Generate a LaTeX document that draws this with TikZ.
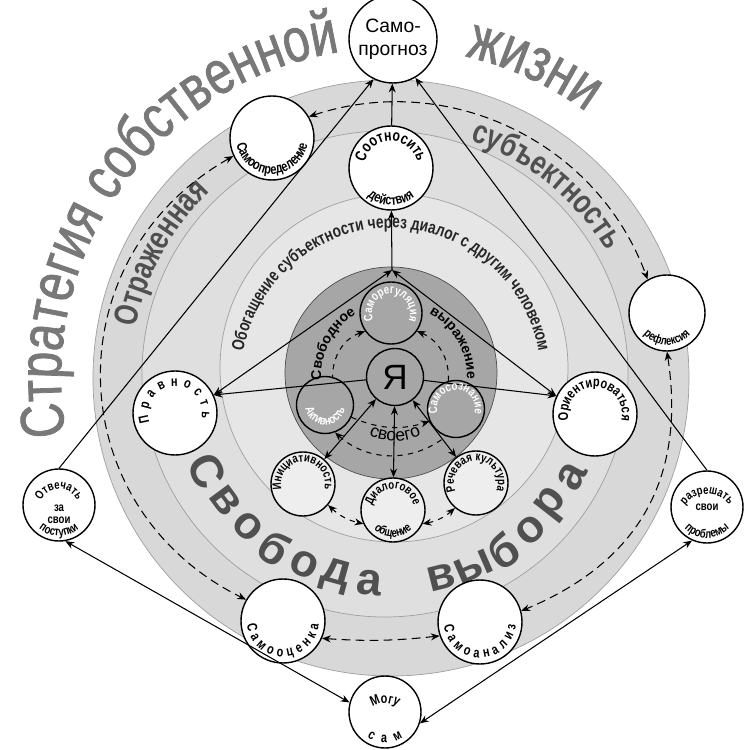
\documentclass[tikz,border=0pt]{standalone}
\usepackage{fontspec}
\setmainfont{Liberation Sans}
\newfontfamily\narrowfont[FakeStretch=0.78]{Liberation Sans}
\newfontfamily\heavyfont[FakeStretch=0.78,FakeBold=1.2]{Liberation Sans}
\usetikzlibrary{arrows.meta,decorations.text}
\definecolor{bandout}{HTML}{D8D8D8}
\definecolor{bandmid}{HTML}{DFDFDF}
\definecolor{bandin}{HTML}{E6E6E6}
\definecolor{coredark}{HTML}{A6A6A6}
\definecolor{lowfill}{HTML}{EEEEEE}
\definecolor{bigtext}{HTML}{787878}
\definecolor{darktext}{HTML}{505050}

\newcommand{\fbig}{\heavyfont\fontsize{35}{35}\selectfont}
\newcommand{\fband}{\narrowfont\bfseries\fontsize{19}{19}\selectfont}
\newcommand{\fring}{\narrowfont\bfseries\fontsize{10}{10}\selectfont}
\newcommand{\fmd}{\narrowfont\bfseries\fontsize{9}{9}\selectfont}
\newcommand{\fsm}{\narrowfont\bfseries\fontsize{8}{8}\selectfont}
\newcommand{\fxs}{\narrowfont\bfseries\fontsize{7}{7}\selectfont}
\newcommand{\fcore}{\bfseries\fontsize{8}{8}\selectfont}
\newcommand{\fhollow}{\color{white}\narrowfont\bfseries\fontsize{7}{7}\selectfont}

% text along an arc round a named point (optional shift of the centre)
\newcommand{\arctext}[6][0,0]{%
  \path[decorate,decoration={text along path,text align=center,text={#6}}]
    (#2) ++(#1) ++(#4:#3) arc[start angle=#4,end angle=#5,radius=#3];}
\newcommand{\arcfit}[6][0,0]{%
  \path[decorate,decoration={text along path,text align=fit to path,text={#6}}]
    (#2) ++(#1) ++(#4:#3) arc[start angle=#4,end angle=#5,radius=#3];}

\begin{document}
\begin{tikzpicture}[
    x=0.02cm, y=0.02cm,
    ringline/.style={draw=gray!75, line width=0.4pt},
    bigc/.style={circle, draw, thick, fill=white, minimum size=1.68cm,
                 inner sep=0pt, align=center},
    smallc/.style={bigc, minimum size=1.44cm},
    corec/.style={circle, draw, thick, minimum size=1.14cm, inner sep=0pt},
    lowc/.style={circle, draw, thick, fill=lowfill, minimum size=1.28cm,
                 inner sep=0pt},
    midtext/.style={font=\fxs, align=center, inner sep=0pt},
    bigletter/.style={font=\bfseries\fontsize{26}{26}\selectfont,
                      text=darktext, inner sep=0pt},
    arr/.style={-{Stealth[length=5pt,width=4pt]}, semithick},
    rarr/.style={{Stealth[length=5pt,width=4pt]}-, semithick},
    biarr/.style={{Stealth[length=5pt,width=4pt]}-{Stealth[length=5pt,width=4pt]},
                  semithick},
    dsh/.style={thick, dash pattern=on 5pt off 3pt},
    dshs/.style={thick, dash pattern=on 3pt off 3pt},
]
\useasboundingbox (-391,-372) rectangle (359,378);
\fill[white] (-391,-372) rectangle (359,378);
\coordinate (o) at (0,0);

% rings
\filldraw[fill=bandout, ringline] (o) circle[radius=298];
\filldraw[fill=bandmid, ringline] (-6,4) circle[radius=243];
\filldraw[fill=bandin, ringline] (3,10) circle[radius=174];
\filldraw[fill=coredark, draw=gray!60!black, line width=0.4pt] (0,5) circle[radius=106];

% texts on the rings
\path[decorate,decoration={text along path,
      text={|\fbig\color{bigtext}|Стратегия собственной}}]
    (o) ++(190:330) arc[start angle=190,end angle=92,radius=330];
\path[decorate,decoration={text along path,text={|\fbig\color{bigtext}|жизни}}]
    (o) ++(77:330) arc[start angle=77,end angle=40,radius=330];
\arctext{o}{260}{177}{126}{|\fband\color{darktext}|Отраженная}
\arctext{o}{250}{77}{25}{|\fband\color{darktext}|субъектность}
\arctext{o}{150}{179}{1}{|\fring\color{black!85}|Обогащение субъектности через диалог с другим человеком}
\foreach \ch/\ang [count=\i] in {С/207,в/216.5,о/226,б/235.5,о/245,д/254.5,а/264,
                                 в/284,ы/293.5,б/303,о/312.5,р/322,а/331.5}
  \node[bigletter, rotate=\ang+90] (sv\i) at (\ang:206) {\ch};

% outer circles
\node[bigc, minimum size=1.76cm, font=\fontsize{11}{13}\selectfont] (prog) at (2,339) {Само-\\прогноз};
\node[bigc] (sdet) at (-119,240) {};
\node[bigc] (sootn) at (0,210) {};
\node[bigc, minimum size=1.52cm] (refl) at (276,65) {};
\node[bigc] (prav) at (-216,-35) {};
\node[bigc] (orient) at (204,-36) {};
\node[smallc] (otv) at (-332,-127) {};
\node[smallc] (razr) at (316,-129) {};
\node[bigc] (sest) at (-108,-243) {};
\node[bigc] (sanal) at (89,-244) {};
\node[smallc] (mogu) at (-6,-334) {};

% inner circles
\node[corec, font=\fontsize{20}{20}\selectfont] (ya) at (4,1) {Я};
\node[corec, minimum size=1.24cm] (reg) at (0,65) {};
\node[corec] (akt) at (-66,-27) {};
\node[corec] (sam) at (65,-31) {};
\node[lowc] (init) at (-88,-106) {};
\node[lowc] (dial) at (2,-132) {};
\node[lowc] (rech) at (85,-105) {};
\coordinate (top) at (1,108);

% outer dashed ring
\draw[dsh, biarr] (sdet.30) to[bend left=44] (refl.120);
\draw[dsh, biarr] (sdet.205) to[bend right=62, looseness=1.2] (sest.150);
\draw[dsh, biarr] (refl.south) to[bend left=38, looseness=1.1] (sanal.15);
\draw[dsh, biarr] (sest.-24) to[bend right=5] (sanal.199);

% solid links
\draw[arr] (top) -- (sootn);
\draw[arr] (sootn) -- (prog);
\draw[biarr] (prav.25) -- (top);
\draw[biarr] (orient.155) -- (top);
\draw[arr] (ya) -- (prav.25);
\draw[arr] (ya) -- (orient.155);
\draw[arr] (otv.north) -- (prog.244);
\draw[arr] (razr.north) -- (prog.300);
\draw[biarr] (otv.280) -- (mogu.165);
\draw[biarr] (razr.246) -- (mogu.-18);
\draw[biarr] (ya) -- (init);
\draw[biarr] (ya) -- (dial);
\draw[biarr] (ya) -- (rech);

% inner dashed links
\draw[dshs, rarr] (reg.215) to[bend right=35] (akt.75);
\draw[dshs, rarr] (reg.325) to[bend left=35] (sam.105);
\draw[dshs, rarr] (akt.290) to[bend right=40] (sam.250);
\draw[dshs, arr] (akt.335) to[bend right=20] (sam.205);
\draw[dshs, biarr] (init.320) to[bend right=15] (dial.205);
\draw[dshs, biarr] (dial.335) to[bend right=15] (rech.230);

% texts in the circles
\arctext{sdet}{36}{172}{368}{|\fsm|Самоопределение}
\arctext{sootn}{27}{178}{2}{|\fmd|Соотносить}
\arctext{sootn}{37}{205}{335}{|\fsm|действия}
\arctext{refl}{32}{190}{350}{|\fxs|рефлексия}
\arcfit{prav}{27}{200}{-12}{|\fsm|Правность}
\arctext{orient}{27}{210}{-30}{|\fsm|Ориентироваться}
\arctext[0,-4]{otv}{20}{175}{5}{|\fxs|Отвечать}
\node[midtext, yshift=-0.18cm] (otvin) at (otv) {за\\свои};
\arctext{otv}{31}{195}{345}{|\fxs|поступки}
\arctext[0,-14]{razr}{27}{170}{10}{|\fxs|разрешать}
\node[midtext] (razrin) at (razr) {свои};
\arctext{razr}{31}{200}{340}{|\fxs|проблемы}
\arcfit{sest}{36}{185}{355}{|\fsm|Самооценка}
\arcfit{sanal}{36}{185}{355}{|\fsm|Самоанализ}
\arctext[0,-13]{mogu}{22}{160}{20}{|\fsm|Могу}
\arcfit{mogu}{31}{235}{305}{|\fsm|сам}
\arctext{reg}{19}{225}{-45}{|\fhollow|Саморегуляция}
\arctext{akt}{20}{175}{365}{|\fhollow|Активность}
\arctext{sam}{19}{230}{-50}{|\fhollow|Самосознание}
\arctext{init}{22}{205}{-25}{|\fxs|Инициативность}
\arctext{dial}{21}{190}{-10}{|\fxs|Диалоговое}
\arctext{dial}{27}{205}{335}{|\fxs|общение}
\arctext{rech}{22}{215}{-35}{|\fxs|Речевая культура}
\arctext{ya}{74}{182}{122}{|\fcore|Свободное}
\arctext{ya}{72}{62}{-2}{|\fcore|выражение}
\arctext{ya}{64}{235}{305}{|\fontsize{10}{10}\selectfont|своего}
\end{tikzpicture}
\end{document}
